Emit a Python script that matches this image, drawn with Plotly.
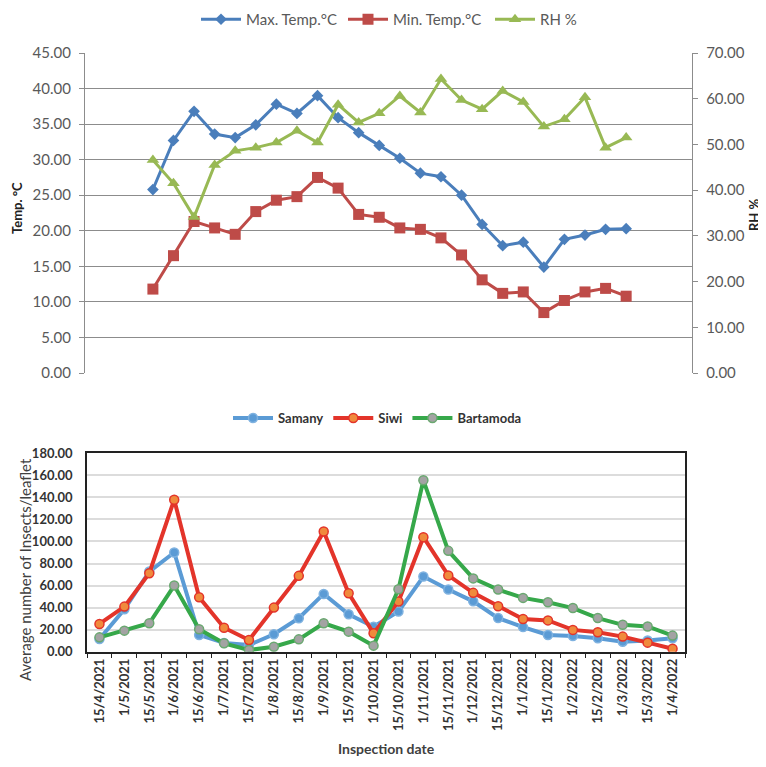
import plotly.graph_objs as go

# top chart: weather readings (24 inspection points)
max_temp = [25.8, 32.7, 36.8, 33.6, 33.1, 34.9, 37.8, 36.5, 39.0, 35.9, 33.8, 32.0,
            30.2, 28.1, 27.6, 25.0, 20.9, 17.9, 18.4, 14.9, 18.8, 19.4, 20.2, 20.3]
min_temp = [11.8, 16.5, 21.3, 20.4, 19.5, 22.7, 24.3, 24.8, 27.5, 26.0, 22.3, 21.9,
            20.4, 20.2, 19.0, 16.6, 13.1, 11.2, 11.4, 8.5, 10.2, 11.4, 11.9, 10.8]
rh = [46.6, 41.5, 34.1, 45.5, 48.6, 49.3, 50.4, 53.0, 50.4, 58.7, 54.8, 56.8,
      60.6, 57.0, 64.3, 59.7, 57.7, 61.7, 59.3, 53.9, 55.5, 60.3, 49.3, 51.5]
points = list(range(len(max_temp)))

# bottom chart: insects per leaflet
dates = ['15/4/2021', '1/5/2021', '15/5/2021', '1/6/2021', '15/6/2021', '1/7/2021',
         '15/7/2021', '1/8/2021', '15/8/2021', '1/9/2021', '15/9/2021', '1/10/2021',
         '15/10/2021', '1/11/2021', '15/11/2021', '1/12/2021', '15/12/2021', '1/1/2022',
         '15/1/2022', '1/2/2022', '15/2/2022', '1/3/2022', '15/3/2022', '1/4/2022']
samany = [11.5, 38.5, 72.7, 90.0, 15.2, 8.0, 6.0, 15.8, 30.3, 52.4, 33.9, 22.7,
          36.4, 68.2, 56.4, 45.7, 30.5, 22.3, 15.2, 14.3, 12.2, 9.1, 10.1, 12.2]
siwi = [25.2, 40.9, 71.2, 137.9, 49.4, 21.8, 10.6, 40.0, 68.8, 109.1, 53.0, 16.7,
        45.5, 103.9, 69.2, 53.4, 41.2, 29.6, 28.4, 19.8, 17.7, 13.7, 8.2, 2.7]
bartamoda = [13.0, 19.1, 25.8, 60.0, 20.3, 7.6, 1.5, 4.5, 11.2, 25.8, 18.2, 5.5,
             56.7, 155.5, 91.5, 66.5, 56.4, 48.8, 44.8, 39.6, 30.5, 24.4, 22.9, 14.6]

# page body has an 8px margin, so the figure is a bit smaller and shifted
OFF = 8
W, H = 766 - OFF, 767 - 2 * OFF
FONT = 'Lato'
GREY = '#595959'
DARK = '#333333'

def px_x(p):
    return (p - OFF) / W

def px_y(p):
    return 1 - (p - OFF) / H

fig = go.Figure()

# top chart traces
fig.add_trace(go.Scatter(x=points, y=max_temp, name='Max. Temp.°C', mode='lines+markers',
                         line=dict(color='#4a7ebb', width=3),
                         marker=dict(symbol='diamond', size=9, color='#4a7ebb'),
                         xaxis='x', yaxis='y', legend='legend'))
fig.add_trace(go.Scatter(x=points, y=min_temp, name='Min. Temp.°C', mode='lines+markers',
                         line=dict(color='#be4b48', width=3),
                         marker=dict(symbol='square', size=11, color='#be4b48'),
                         xaxis='x', yaxis='y', legend='legend'))
fig.add_trace(go.Scatter(x=points, y=rh, name='RH %', mode='lines+markers',
                         line=dict(color='#98b954', width=3),
                         marker=dict(symbol='triangle-up', size=11, color='#98b954'),
                         xaxis='x', yaxis='y3', legend='legend'))

# bottom chart traces
fig.add_trace(go.Scatter(x=dates, y=samany, name='Samany', mode='lines+markers',
                         line=dict(color='#5b9bd5', width=4),
                         marker=dict(size=9, color='#5b9bd5', line=dict(color='#7fb2e0', width=1.5)),
                         xaxis='x2', yaxis='y2', legend='legend2'))
fig.add_trace(go.Scatter(x=dates, y=siwi, name='Siwi', mode='lines+markers',
                         line=dict(color='#e3342a', width=4),
                         marker=dict(size=9, color='#f08a3c', line=dict(color='#e3342a', width=1.5)),
                         xaxis='x2', yaxis='y2', legend='legend2'))
fig.add_trace(go.Scatter(x=dates, y=bartamoda, name='Bartamoda', mode='lines+markers',
                         line=dict(color='#36a84a', width=4),
                         marker=dict(size=9, color='#a3a3a3', line=dict(color='#6aa870', width=1.5)),
                         xaxis='x2', yaxis='y2', legend='legend2'))

fig.update_layout(
    width=W, height=H,
    margin=dict(l=0, r=0, t=0, b=0, autoexpand=False),
    paper_bgcolor='white', plot_bgcolor='white',
    font=dict(family=FONT, color=GREY, size=14),
    legend=dict(orientation='h', x=px_x(196), y=px_y(3), xanchor='left', yanchor='top',
                font=dict(family=FONT, size=15, color=GREY), itemwidth=40,
                entrywidth=92, bgcolor='rgba(0,0,0,0)'),
    legend2=dict(orientation='h', x=px_x(228), y=px_y(403), xanchor='left', yanchor='top',
                 font=dict(family=FONT, size=13, color=DARK, weight='bold'), itemwidth=40,
                 bgcolor='rgba(0,0,0,0)'),
    xaxis=dict(domain=[px_x(85), px_x(692)], range=[-3.3, 26.2], showticklabels=False,
               showgrid=False, zeroline=False, ticks='', anchor='y'),
    yaxis=dict(domain=[px_y(373), px_y(53)], range=[0, 45], dtick=5, tickformat='.2f',
               showline=True, linecolor='#8c8c8c', linewidth=1.3, ticks='outside',
               ticklen=5, tickcolor='#8c8c8c', gridcolor='#8c8c8c', gridwidth=1.3,
               zeroline=False, ticklabelstandoff=5,
               tickfont=dict(family=FONT, size=15, color=GREY), anchor='x'),
    yaxis3=dict(overlaying='y', side='right', range=[0, 70], dtick=10, tickformat='.2f',
                showline=True, linecolor='#8c8c8c', linewidth=1.3, ticks='outside',
                ticklen=5, tickcolor='#8c8c8c', showgrid=False, zeroline=False,
                ticklabelstandoff=5,
                tickfont=dict(family=FONT, size=15, color=GREY), anchor='x'),
    xaxis2=dict(domain=[px_x(87), px_x(685)], type='category', range=[-0.5, 23.5],
                tickangle=-90, ticks='outside', tickson='boundaries', ticklen=5,
                tickcolor='#222222', showline=True, linecolor='#222222', linewidth=1.5,
                mirror=True, showgrid=False, anchor='y2',
                tickfont=dict(family=FONT, size=13, color=DARK, weight='bold')),
    yaxis2=dict(domain=[px_y(651.7), px_y(453.3)], range=[0, 180], dtick=20, tickformat='.2f',
                showline=True, linecolor='#222222', linewidth=1.5, mirror=True,
                gridcolor='#dcdcdc', gridwidth=1.5, zeroline=False, anchor='x2',
                ticklabelstandoff=10,
                tickfont=dict(family=FONT, size=13, color=DARK, weight='bold')),
)

# axis titles
fig.add_annotation(text='Temp. °C', x=px_x(17), y=px_y(208), xref='paper', yref='paper',
                   xanchor='center', yanchor='middle', textangle=-90, showarrow=False,
                   font=dict(family=FONT, size=13, color='#222222', weight='bold'))
fig.add_annotation(text='RH %', x=px_x(754), y=px_y(215), xref='paper', yref='paper',
                   xanchor='center', yanchor='middle', textangle=-90, showarrow=False,
                   font=dict(family=FONT, size=13, color='#222222', weight='bold'))
fig.add_annotation(text='Average number of Insects/leaflet', x=px_x(25), y=px_y(570),
                   xref='paper', yref='paper', xanchor='center', yanchor='middle',
                   textangle=-90, showarrow=False,
                   font=dict(family=FONT, size=15, color='#404040'))
fig.add_annotation(text='Inspection date', x=px_x(386), y=px_y(748), xref='paper', yref='paper',
                   xanchor='center', yanchor='middle', showarrow=False,
                   font=dict(family=FONT, size=14, color='#404040', weight='bold'))

fig.write_html("out.html")
